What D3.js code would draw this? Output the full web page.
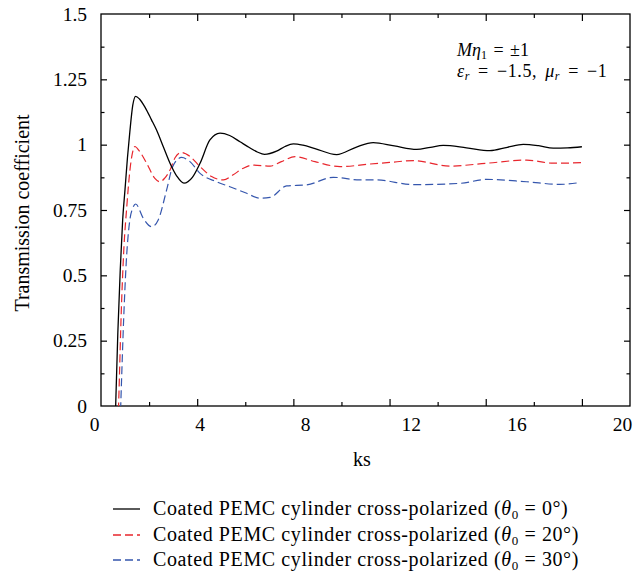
<!DOCTYPE html>
<html>
<head>
<meta charset="utf-8">
<script src="https://cdn.jsdelivr.net/npm/d3@7"></script>
<style>
  html, body { margin: 0; padding: 0; background: #fff; }
  svg { display: block; }
  text { font-family: "Liberation Serif", "DejaVu Serif", serif; fill: #000; }
</style>
</head>
<body>
<div id="chart"></div>
<script>
// ---------- data ----------
const ksBlack = [0.55, 0.61, 0.7, 0.8, 0.9, 1.0, 1.1, 1.2, 1.32, 1.44, 1.6, 1.85, 2.1, 2.31, 2.6, 2.87, 3.15, 3.45, 3.8, 4.12, 4.53, 4.95, 5.35, 5.78, 6.15, 6.5, 6.8, 7.3, 7.65, 8.0, 8.4, 8.9, 9.8, 10.6, 11.32, 12.2, 13.13, 13.7, 14.23, 15.2, 16.17, 16.9, 17.56, 18.2, 18.81, 19.4, 20.0];
const tBlack  = [-0.2, 0, 0.28, 0.52, 0.71, 0.83, 0.95, 1.05, 1.15, 1.185, 1.175, 1.14, 1.095, 1.056, 0.99, 0.929, 0.88, 0.853, 0.875, 0.929, 1.018, 1.044, 1.035, 1.011, 0.99, 0.972, 0.963, 0.975, 0.993, 1.003, 0.998, 0.985, 0.962, 0.99, 1.008, 0.995, 0.982, 0.99, 0.997, 0.988, 0.977, 0.99, 1.001, 0.996, 0.987, 0.988, 0.992];

const ksRed = [0.65, 0.73, 0.85, 0.95, 1.07, 1.2, 1.3, 1.41, 1.6, 1.9, 2.24, 2.45, 2.65, 2.87, 3.08, 3.35, 3.7, 4.12, 4.6, 5.09, 5.5, 5.92, 6.33, 7.03, 7.5, 8.07, 8.9, 9.94, 11.2, 12.0, 13.0, 14.5, 16.04, 17.7, 18.8, 20.0];
const tRed  = [-0.2, 0, 0.38, 0.6, 0.76, 0.9, 0.965, 0.993, 0.975, 0.929, 0.871, 0.858, 0.872, 0.903, 0.95, 0.97, 0.955, 0.916, 0.878, 0.865, 0.885, 0.91, 0.922, 0.918, 0.935, 0.954, 0.935, 0.916, 0.926, 0.932, 0.939, 0.918, 0.929, 0.941, 0.929, 0.931];

const ksBlue = [0.75, 0.82, 0.95, 1.05, 1.2, 1.32, 1.44, 1.76, 2.11, 2.38, 2.73, 2.98, 3.35, 3.7, 4.12, 4.81, 5.36, 6.06, 6.61, 7.03, 7.72, 8.55, 9.66, 10.77, 11.46, 13.0, 14.93, 16.04, 17.7, 19.08, 19.92];
const tBlue  = [-0.2, 0, 0.35, 0.55, 0.712, 0.757, 0.773, 0.718, 0.686, 0.712, 0.827, 0.916, 0.951, 0.935, 0.89, 0.858, 0.839, 0.814, 0.795, 0.798, 0.842, 0.846, 0.875, 0.865, 0.865, 0.847, 0.852, 0.867, 0.858, 0.848, 0.855];

const xTickLabels = [0, 4, 8, 12, 16, 20];
const yTickLabels = [0, 0.25, 0.5, 0.75, 1, 1.25, 1.5];
const legendLabels = ["0°", "20°", "30°"];
const seriesColors = ["#000000", "#e8262d", "#3556ad"];

// ---------- layout ----------
const W = 634, H = 577;
const L = 101, R = 630, T = 14, B = 406;

const svg = d3.select("#chart").append("svg").attr("width", W).attr("height", H);

const x = d3.scaleLinear().domain([0, 22]).range([L, R]);
const xLab = d3.scaleLinear().domain([0, 20]).range([94, 622]);
const y = d3.scaleLinear().domain([0, 1.5]).range([B, T]);

const major = [4, 8, 12, 16, 20], minor = [2, 6, 10, 14, 18];
const yMajor = [0.25, 0.5, 0.75, 1, 1.25], yMinor = [0.125, 0.375, 0.625, 0.875, 1.125, 1.375];

function tickAxis(g, axis) {
  g.call(axis);
  g.select(".domain").remove();
  g.selectAll(".tick line").attr("stroke", "#000").attr("stroke-width", 1.2);
  g.selectAll(".tick text").remove();
}

// ticks (inside)
svg.append("g").attr("transform", `translate(0,${B})`)
  .call(g => tickAxis(g, d3.axisBottom(x).tickValues(major).tickSize(-7)));
svg.append("g").attr("transform", `translate(0,${B})`)
  .call(g => tickAxis(g, d3.axisBottom(x).tickValues(minor).tickSize(-4)));
svg.append("g").attr("transform", `translate(0,${T})`)
  .call(g => tickAxis(g, d3.axisTop(x).tickValues(major).tickSize(-7)));
svg.append("g").attr("transform", `translate(0,${T})`)
  .call(g => tickAxis(g, d3.axisTop(x).tickValues(minor).tickSize(-4)));
svg.append("g").attr("transform", `translate(${L},0)`)
  .call(g => tickAxis(g, d3.axisLeft(y).tickValues(yMajor).tickSize(-6)));
svg.append("g").attr("transform", `translate(${L},0)`)
  .call(g => tickAxis(g, d3.axisLeft(y).tickValues(yMinor).tickSize(-3.5)));
svg.append("g").attr("transform", `translate(${R},0)`)
  .call(g => tickAxis(g, d3.axisRight(y).tickValues(yMajor).tickSize(-6)));
svg.append("g").attr("transform", `translate(${R},0)`)
  .call(g => tickAxis(g, d3.axisRight(y).tickValues(yMinor).tickSize(-3.5)));

// tick labels
const gxl = svg.append("g").attr("transform", `translate(0,${B})`)
  .call(d3.axisBottom(xLab).tickValues(xTickLabels).tickSize(0).tickPadding(11).tickFormat(d => String(d)));
gxl.select(".domain").remove();
gxl.selectAll("text").attr("font-size", 19.5).attr("font-family", "Liberation Serif");

const gyl = svg.append("g").attr("transform", `translate(${L},0)`)
  .call(d3.axisLeft(y).tickValues(yTickLabels).tickSize(0).tickPadding(14).tickFormat(d => String(d)));
gyl.select(".domain").remove();
gyl.selectAll("text").attr("font-size", 19.5).attr("font-family", "Liberation Serif");

// frame
svg.append("rect").attr("x", L).attr("y", T).attr("width", R - L).attr("height", B - T)
  .attr("fill", "none").attr("stroke", "#000").attr("stroke-width", 1.3);

// axis titles
svg.append("text").attr("x", 362).attr("y", 466).attr("text-anchor", "middle")
  .attr("font-size", 20).text("ks");
svg.append("text").attr("transform", "translate(29,213) rotate(-90)").attr("text-anchor", "middle")
  .attr("font-size", 20).text("Transmission coefficient");

// curves
svg.append("clipPath").attr("id", "clip").append("rect")
  .attr("x", L).attr("y", T).attr("width", R - L).attr("height", B - T);

const line = d3.line().x(d => x(d[0])).y(d => y(d[1])).curve(d3.curveMonotoneX);
const series = [
  { ks: ksBlack, t: tBlack, dash: null },
  { ks: ksRed, t: tRed, dash: "8,4" },
  { ks: ksBlue, t: tBlue, dash: "8,4" }
];
const plot = svg.append("g").attr("clip-path", "url(#clip)");
series.slice().reverse().forEach((s, i) => {
  const idx = series.length - 1 - i;
  plot.append("path")
    .datum(d3.zip(s.ks, s.t))
    .attr("d", line)
    .attr("fill", "none")
    .attr("stroke", seriesColors[idx])
    .attr("stroke-width", idx === 0 ? 1.3 : 1.2)
    .attr("stroke-dasharray", s.dash);
});

// annotation
const ann1 = svg.append("text").attr("x", 457).attr("y", 56).attr("font-size", 18)
  .attr("word-spacing", 2);
ann1.append("tspan").attr("font-style", "italic").text("Mη");
ann1.append("tspan").attr("font-size", 12).attr("dy", 3).text("1");
ann1.append("tspan").attr("dy", -3).text(" = ±1");

const ann2 = svg.append("text").attr("x", 457).attr("y", 77).attr("font-size", 18)
  .attr("word-spacing", 3).attr("letter-spacing", 0.6);
ann2.append("tspan").attr("font-style", "italic").text("ε");
ann2.append("tspan").attr("font-size", 12).attr("font-style", "italic").attr("dy", 3).text("r");
ann2.append("tspan").attr("dy", -3).text(" = −1.5, ");
ann2.append("tspan").attr("font-style", "italic").text("μ");
ann2.append("tspan").attr("font-size", 12).attr("font-style", "italic").attr("dy", 3).text("r");
ann2.append("tspan").attr("dy", -3).text(" = −1");

// legend
const legY = [509, 535, 560];
legendLabels.forEach((lab, i) => {
  svg.append("line").attr("x1", 113).attr("x2", 140).attr("y1", legY[i]).attr("y2", legY[i])
    .attr("stroke", seriesColors[i]).attr("stroke-width", 1.3)
    .attr("stroke-dasharray", i === 0 ? null : "8,4");
  const t = svg.append("text").attr("x", 153).attr("y", legY[i] + 6).attr("font-size", 20)
    .attr("letter-spacing", 0.6);
  t.append("tspan").text("Coated PEMC cylinder cross-polarized (");
  t.append("tspan").attr("font-style", "italic").text("θ");
  t.append("tspan").attr("font-size", 13).attr("dy", 4).text("0");
  t.append("tspan").attr("dy", -4).text(" = " + lab + ")");
});
</script>
</body>
</html>
